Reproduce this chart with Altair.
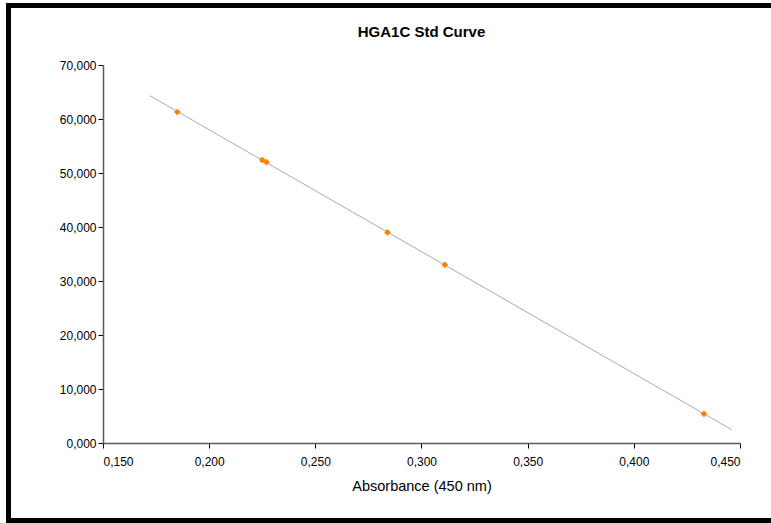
import altair as alt
import pandas as pd

# Data
absorbance = [0.185, 0.225, 0.227, 0.284, 0.311, 0.433]
concentration = [61.3, 52.4, 52.0, 39.0, 33.0, 5.4]
x_ticks = [0.15, 0.20, 0.25, 0.30, 0.35, 0.40, 0.45]
y_ticks = [0, 10, 20, 30, 40, 50, 60, 70]
trend_extent = [0.172, 0.446]

df = pd.DataFrame({"x": absorbance, "y": concentration})

W, H = 637, 378
PAD_L, PAD_T = 103, 65

xs = alt.Scale(domain=[0.15, 0.45], nice=False, zero=False)
ys = alt.Scale(domain=[0, 70], nice=False)

x_axis = alt.Axis(
    values=x_ticks,
    labelExpr="replace(format(datum.value, '.3f'), '.', ',')",
    title="Absorbance (450 nm)",
    titleFontSize=14.5,
    titleFontWeight="normal",
    titleFont="Liberation Sans",
    titleColor="black",
    titlePadding=12,
    labelFont="Liberation Sans",
    labelFontSize=12,
    labelColor="black",
    labelPadding=8,
    tickSize=5,
    tickColor="black",
    domainColor="#5a5a5a",
    domainWidth=1.5,
    grid=False,
)
y_axis = alt.Axis(
    values=y_ticks,
    labelExpr="replace(format(datum.value, '.3f'), '.', ',')",
    title=None,
    labelFont="Liberation Sans",
    labelFontSize=12,
    labelColor="black",
    labelPadding=2,
    tickSize=5,
    tickColor="black",
    domainColor="#5a5a5a",
    domainWidth=1.5,
    grid=False,
)

base = alt.Chart(df)

trend = base.transform_regression("x", "y", extent=trend_extent).mark_line(
    color="#ababab", strokeWidth=1
).encode(
    x=alt.X("x:Q", scale=xs, axis=x_axis),
    y=alt.Y("y:Q", scale=ys, axis=y_axis),
)

points = base.mark_point(
    shape="diamond", filled=True, color="#ff8000", size=45, opacity=1
).encode(
    x=alt.X("x:Q", scale=xs),
    y=alt.Y("y:Q", scale=ys),
)

frame = alt.Chart(pd.DataFrame({"a": [0]})).mark_rect(
    fillOpacity=0, stroke="black", strokeWidth=5
).encode(
    x=alt.value(8.5 - PAD_L),
    x2=alt.value(780 - PAD_L),
    y=alt.value(5.5 - PAD_T),
    y2=alt.value(520.5 - PAD_T),
)

chart = alt.layer(trend, points, frame).properties(
    width=W,
    height=H,
    title=alt.TitleParams(
        "HGA1C Std Curve",
        font="Liberation Sans",
        fontSize=15,
        fontWeight="bold",
        color="black",
        anchor="middle",
        offset=-37,
    ),
    autosize=alt.AutoSizeParams(type="none"),
    padding={"left": PAD_L, "top": PAD_T, "right": 771 - PAD_L - W, "bottom": 523 - PAD_T - H},
    background="white",
).configure_view(stroke=None)

chart.save("out.html", embed_options={"renderer": "svg", "actions": False})
